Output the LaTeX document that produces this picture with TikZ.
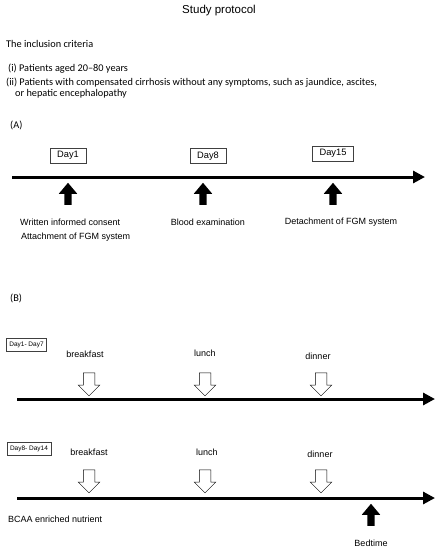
\documentclass[tikz,border=0pt]{standalone}
\usepackage{fontspec}
\setmainfont{Liberation Sans}
\newfontfamily\critfont{Carlito}
\usetikzlibrary{shapes.arrows, arrows.meta, positioning}

\begin{document}
\begin{tikzpicture}[
    x=1pt, y=-1pt,
    daybox/.style={
        draw=black!75, line width=0.6pt, inner xsep=7pt,
        minimum height=15pt, font=\fontsize{9.3}{10}\selectfont
    },
    periodbox/.style={
        draw=black!75, line width=0.5pt, inner xsep=3pt,
        minimum height=13pt, font=\fontsize{6.5}{7}\selectfont
    },
    upmark/.style={
        single arrow, fill=black, inner sep=3.5pt,
        single arrow head extend=5.5pt, single arrow tip angle=80,
        minimum height=22pt, shape border rotate=90
    },
    mealmark/.style={
        single arrow, draw=black, fill=white, line width=0.5pt,
        inner sep=5.5pt, single arrow head extend=5pt,
        minimum height=23pt, shape border rotate=270
    },
    timeline/.style={line width=3pt, -{Triangle[length=12pt, width=12pt]}},
    lbl/.style={font=\fontsize{9}{10}\selectfont, inner sep=0pt},
    crit/.style={font=\critfont\fontsize{10.3}{12}\selectfont, anchor=base west, inner sep=0pt}
]
    \useasboundingbox (0,0) rectangle (439,550);

    % title and criteria
    \node[font=\fontsize{11.5}{13}\selectfont, anchor=base] (title) at (219,13) {Study protocol};
    \node[crit] (critHead) at (6,47) {The inclusion criteria};
    \node[crit] (critOne)  at (8,71.5) {(i) Patients aged 20–80 years};
    \node[crit] (critTwo)  at (6,85) {(ii) Patients with compensated cirrhosis without any symptoms, such as jaundice, ascites,};
    \node[crit] (critTwoB) at (15,96.5) {or hepatic encephalopathy};

    % (A) schedule
    \node[crit] (partA) at (10,128) {(A)};

    \coordinate (aStart) at (12,177);
    \coordinate (aEnd)   at (425,177);
    \draw[timeline] (aStart) -- (aEnd);

    \node[daybox] (day1)  at (68,155.5) {Day1};
    \node[daybox] (day8)  at (208,156)  {Day8};
    \node[daybox] (day15) at (333,153.5) {Day15};

    \node[upmark] (markA1) at (68,196)  {};
    \node[upmark] (markA8) at (203,196) {};
    \node[upmark] (markA15) at (333,196) {};

    \node[lbl, anchor=west] (consent) at (20,222) {Written informed consent};
    \node[lbl, anchor=west] (attach)  at (21,237) {Attachment of FGM system};
    \node[lbl] (blood)  at (208,222) {Blood examination};
    \node[lbl] (detach) at (341,222) {Detachment of FGM system};

    % (B) meals
    \node[crit] (partB) at (10,301) {(B)};

    \node[periodbox] (weekOne) at (26.5,345) {Day1- Day7};
    \node[lbl] (bfOne)  at (85,354)  {breakfast};
    \node[lbl] (luOne)  at (205,353) {lunch};
    \node[lbl] (diOne)  at (318,356) {dinner};
    \node[mealmark] (bfOneMark) at (89,381.5)  {};
    \node[mealmark] (luOneMark) at (205,381.5) {};
    \node[mealmark] (diOneMark) at (321,381.5) {};

    \coordinate (bStart) at (17,399);
    \coordinate (bEnd)   at (435,399);
    \draw[timeline] (bStart) -- (bEnd);

    \node[periodbox] (weekTwo) at (29,449) {Day8- Day14};
    \node[lbl] (bfTwo)  at (89,452)  {breakfast};
    \node[lbl] (luTwo)  at (207,452) {lunch};
    \node[lbl] (diTwo)  at (320,454) {dinner};
    \node[mealmark] (bfTwoMark) at (89,478.5)  {};
    \node[mealmark] (luTwoMark) at (205,478.5) {};
    \node[mealmark] (diTwoMark) at (321,478.5) {};

    \coordinate (cStart) at (17,498);
    \coordinate (cEnd)   at (435,498);
    \draw[timeline] (cStart) -- (cEnd);

    \node[lbl, anchor=west] (bcaa) at (8,519) {BCAA enriched nutrient};
    \node[upmark] (bedMark) at (371,517) {};
    \node[lbl] (bedtime) at (371,543) {Bedtime};
\end{tikzpicture}
\end{document}
